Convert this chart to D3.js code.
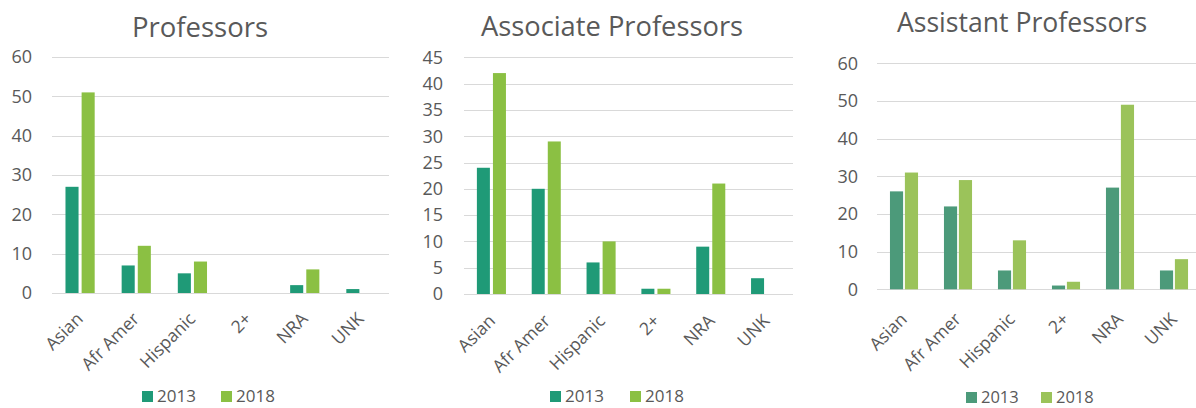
<!DOCTYPE html>
<html>
<head>
<meta charset="utf-8">
<script src="https://cdn.jsdelivr.net/npm/d3@7"></script>
<style>
  html, body { margin: 0; padding: 0; background: #ffffff; }
  svg { display: block; font-family: "Open Sans", "Noto Sans", sans-serif; }
</style>
</head>
<body>
<svg id="chart" width="1196" height="408"></svg>
<script>
// ---- data ----
const categories = ["Asian", "Afr Amer", "Hispanic", "2+", "NRA", "UNK"];
const seriesNames = ["2013", "2018"];

const professors2013 = [27, 7, 5, 0, 2, 1];
const professors2018 = [51, 12, 8, 0, 6, 0];

const associate2013 = [24, 20, 6, 1, 9, 3];
const associate2018 = [42, 29, 10, 1, 21, 0];

const assistant2013 = [26, 22, 5, 1, 27, 5];
const assistant2018 = [31, 29, 13, 2, 49, 8];

const professorsTicks = [0, 10, 20, 30, 40, 50, 60];
const associateTicks = [0, 5, 10, 15, 20, 25, 30, 35, 40, 45];
const assistantTicks = [0, 10, 20, 30, 40, 50, 60];

const titles = ["Professors", "Associate Professors", "Assistant Professors"];

// ---- layout / style ----
const panels = [
  { title: titles[0], s2013: professors2013, s2018: professors2018, ticks: professorsTicks,
    x0: 52, x1: 389, yBottom: 293, yTop: 57, labelRight: 32, titleX: 200, titleY: 37, titleSize: 27.5,
    labelDx: 4, labelDy: 27, legendX: 142, legendY: 396, legendGap: 79, legendSize: 17,
    colors: ["#1f9a77", "#8bc043"], group: 0.52, inner: 0.19 },
  { title: titles[1], s2013: associate2013, s2018: associate2018, ticks: associateTicks,
    x0: 464, x1: 793, yBottom: 294, yTop: 57.3, labelRight: 443, titleX: 612, titleY: 36, titleSize: 27.3,
    labelDx: 5, labelDy: 28, legendX: 550, legendY: 396, legendGap: 80, legendSize: 17,
    colors: ["#1f9a77", "#8bc043"], group: 0.53, inner: 0.19 },
  { title: titles[2], s2013: assistant2013, s2018: assistant2018, ticks: assistantTicks,
    x0: 877, x1: 1201, yBottom: 289.3, yTop: 63.3, labelRight: 858, titleX: 1022, titleY: 32, titleSize: 26.6,
    labelDx: 4, labelDy: 31, legendX: 966, legendY: 397, legendGap: 75, legendSize: 16.5,
    colors: ["#4c9a7a", "#9bc35a"], group: 0.52, inner: 0.12 }
];

const svg = d3.select("#chart");
const textColor = "#595959";
const gridColor = "#d9d9d9";

panels.forEach(p => {
  const g = svg.append("g");
  const ticks = p.ticks;
  const yMax = ticks[ticks.length - 1];
  const y = d3.scaleLinear().domain([0, yMax]).range([p.yBottom, p.yTop]);
  const x = d3.scaleBand().domain(categories).range([p.x0, p.x1]).padding(0);
  const bw = x.bandwidth();
  const gw = bw * p.group;
  const xs = d3.scaleBand().domain(seriesNames)
    .range([(bw - gw) / 2, (bw + gw) / 2]).paddingInner(p.inner).paddingOuter(0);

  // gridlines
  g.append("g").selectAll("line").data(ticks).join("line")
    .attr("x1", p.x0).attr("x2", Math.min(p.x1, 1196))
    .attr("y1", d => Math.round(y(d)) + 0.5).attr("y2", d => Math.round(y(d)) + 0.5)
    .attr("stroke", gridColor).attr("stroke-width", 1);

  // y tick labels
  g.append("g").selectAll("text").data(ticks).join("text")
    .attr("x", p.labelRight).attr("y", d => y(d))
    .attr("dy", "0.35em").attr("text-anchor", "end")
    .attr("font-size", 18).attr("fill", textColor)
    .text(d => d);

  // bars
  const rows = categories.map((c, i) => ({ cat: c, vals: [p.s2013[i], p.s2018[i]] }));
  const cg = g.append("g").selectAll("g").data(rows).join("g")
    .attr("transform", d => `translate(${x(d.cat)},0)`);
  cg.selectAll("rect")
    .data(d => d.vals.map((v, j) => ({ key: seriesNames[j], v, j })))
    .join("rect")
    .attr("x", d => xs(d.key))
    .attr("width", xs.bandwidth())
    .attr("y", d => y(d.v))
    .attr("height", d => y(0) - y(d.v))
    .attr("fill", d => p.colors[d.j]);

  // x labels (rotated)
  g.append("g").selectAll("text").data(categories).join("text")
    .attr("transform", d => `translate(${x(d) + bw / 2 + p.labelDx},${p.yBottom + p.labelDy}) rotate(-45)`)
    .attr("text-anchor", "end")
    .attr("font-size", 17.5).attr("fill", textColor)
    .text(d => d);

  // title
  g.append("text")
    .attr("x", p.titleX).attr("y", p.titleY)
    .attr("text-anchor", "middle")
    .attr("font-size", p.titleSize).attr("fill", textColor)
    .text(p.title);

  // legend
  const lg = g.append("g").attr("transform", `translate(${p.legendX},${p.legendY})`);
  const items = lg.selectAll("g").data(seriesNames).join("g")
    .attr("transform", (d, i) => `translate(${i * p.legendGap},0)`);
  items.append("rect").attr("x", 0).attr("y", -5).attr("width", 11).attr("height", 11)
    .attr("fill", (d, i) => p.colors[i]);
  items.append("text").attr("x", 15).attr("y", 0).attr("dy", "0.36em")
    .attr("font-size", p.legendSize).attr("fill", textColor).text(d => d);
});
</script>
</body>
</html>
